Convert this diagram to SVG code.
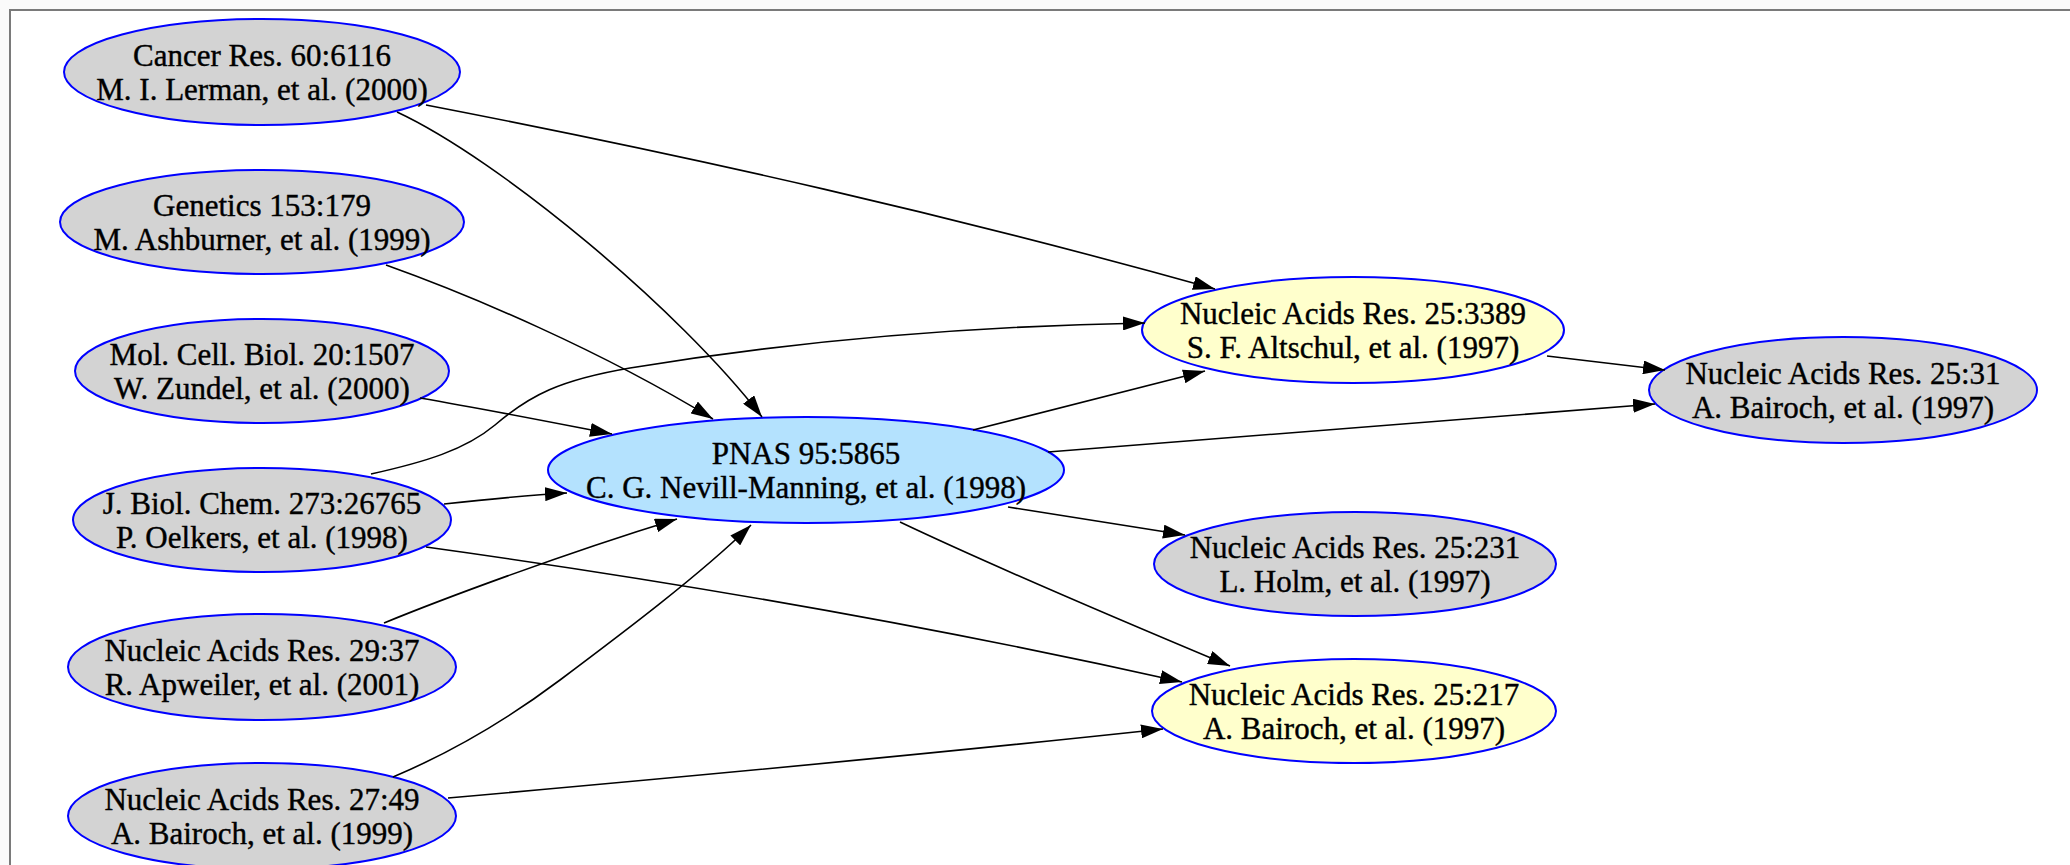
<svg xmlns="http://www.w3.org/2000/svg" width="2070" height="865" viewBox="0 0 2070 865">
<style>
.n ellipse{stroke:#0000ff;stroke-width:2}
.gray{fill:#d3d3d3}
.blue{fill:#b4e2fe}
.yel{fill:#ffffcc}
.n text{font-family:"Liberation Serif","Times New Roman",serif;font-size:31px;fill:#000;stroke:#000;stroke-width:0.4;text-anchor:middle}
.e path{fill:none;stroke:#000;stroke-width:1.6;marker-end:url(#arr)}
</style>
<defs>
<marker id="arr" markerUnits="userSpaceOnUse" markerWidth="22" markerHeight="14" viewBox="0 0 22 14" refX="22" refY="7" orient="auto">
<path d="M0,0 L22,7 L0,14 z" fill="#000"/>
</marker>
</defs>
<rect x="0" y="0" width="2070" height="865" fill="#fafafa"/>
<rect x="10" y="10" width="2060" height="855" fill="#ffffff"/>
<path d="M10,865 V10 H2070" fill="none" stroke="#7a7a7a" stroke-width="2"/>

<g id="n1" class="n"><ellipse class="gray" cx="262" cy="72" rx="198" ry="53"/><text x="262" y="66">Cancer Res. 60:6116</text><text x="262" y="100">M. I. Lerman, et al. (2000)</text></g>
<g id="n2" class="n"><ellipse class="gray" cx="262" cy="222" rx="202" ry="52"/><text x="262" y="216">Genetics 153:179</text><text x="262" y="250">M. Ashburner, et al. (1999)</text></g>
<g id="n3" class="n"><ellipse class="gray" cx="262" cy="371" rx="187" ry="52"/><text x="262" y="365">Mol. Cell. Biol. 20:1507</text><text x="262" y="399">W. Zundel, et al. (2000)</text></g>
<g id="n4" class="n"><ellipse class="gray" cx="262" cy="520" rx="189" ry="52"/><text x="262" y="514">J. Biol. Chem. 273:26765</text><text x="262" y="548">P. Oelkers, et al. (1998)</text></g>
<g id="n5" class="n"><ellipse class="gray" cx="262" cy="667" rx="194" ry="53"/><text x="262" y="661">Nucleic Acids Res. 29:37</text><text x="262" y="695">R. Apweiler, et al. (2001)</text></g>
<g id="n6" class="n"><ellipse class="gray" cx="262" cy="816" rx="194" ry="53"/><text x="262" y="810">Nucleic Acids Res. 27:49</text><text x="262" y="844">A. Bairoch, et al. (1999)</text></g>
<g id="pnas" class="n"><ellipse class="blue" cx="806" cy="470" rx="258" ry="53"/><text x="806" y="464">PNAS 95:5865</text><text x="806" y="498">C. G. Nevill-Manning, et al. (1998)</text></g>
<g id="r1" class="n"><ellipse class="yel" cx="1353" cy="330" rx="211" ry="53"/><text x="1353" y="324">Nucleic Acids Res. 25:3389</text><text x="1353" y="358">S. F. Altschul, et al. (1997)</text></g>
<g id="r2" class="n"><ellipse class="gray" cx="1843" cy="390" rx="194" ry="53"/><text x="1843" y="384">Nucleic Acids Res. 25:31</text><text x="1843" y="418">A. Bairoch, et al. (1997)</text></g>
<g id="r3" class="n"><ellipse class="gray" cx="1355" cy="564" rx="201" ry="52"/><text x="1355" y="558">Nucleic Acids Res. 25:231</text><text x="1355" y="592">L. Holm, et al. (1997)</text></g>
<g id="r4" class="n"><ellipse class="yel" cx="1354" cy="711" rx="202" ry="52"/><text x="1354" y="705">Nucleic Acids Res. 25:217</text><text x="1354" y="739">A. Bairoch, et al. (1997)</text></g>

<g id="edges" class="e">
<path d="M426,105 C700,158 950,215 1215,289"/>
<path d="M397,112 C500,160 680,310 762,417"/>
<path d="M386,265 C470,295 600,350 713,419"/>
<path d="M420,398 C490,410 560,424 612,434"/>
<path d="M444,504 C490,499 530,495 567,493"/>
<path d="M371,474 C425,462 465,450 495,425 C530,395 560,380 630,368 C800,340 980,326 1145,323"/>
<path d="M426,547 C700,585 950,630 1182,682"/>
<path d="M384,623 C440,600 560,555 677,519"/>
<path d="M393,777 C445,755 500,725 560,680 C620,635 700,575 751,525"/>
<path d="M448,798 C650,780 950,752 1163,729"/>
<path d="M973,430 L1205,371"/>
<path d="M1048,452 L1655,404"/>
<path d="M1008,507 L1185,535"/>
<path d="M900,522 C980,560 1120,620 1230,666"/>
<path d="M1547,356 L1665,370"/>
</g>
</svg>
